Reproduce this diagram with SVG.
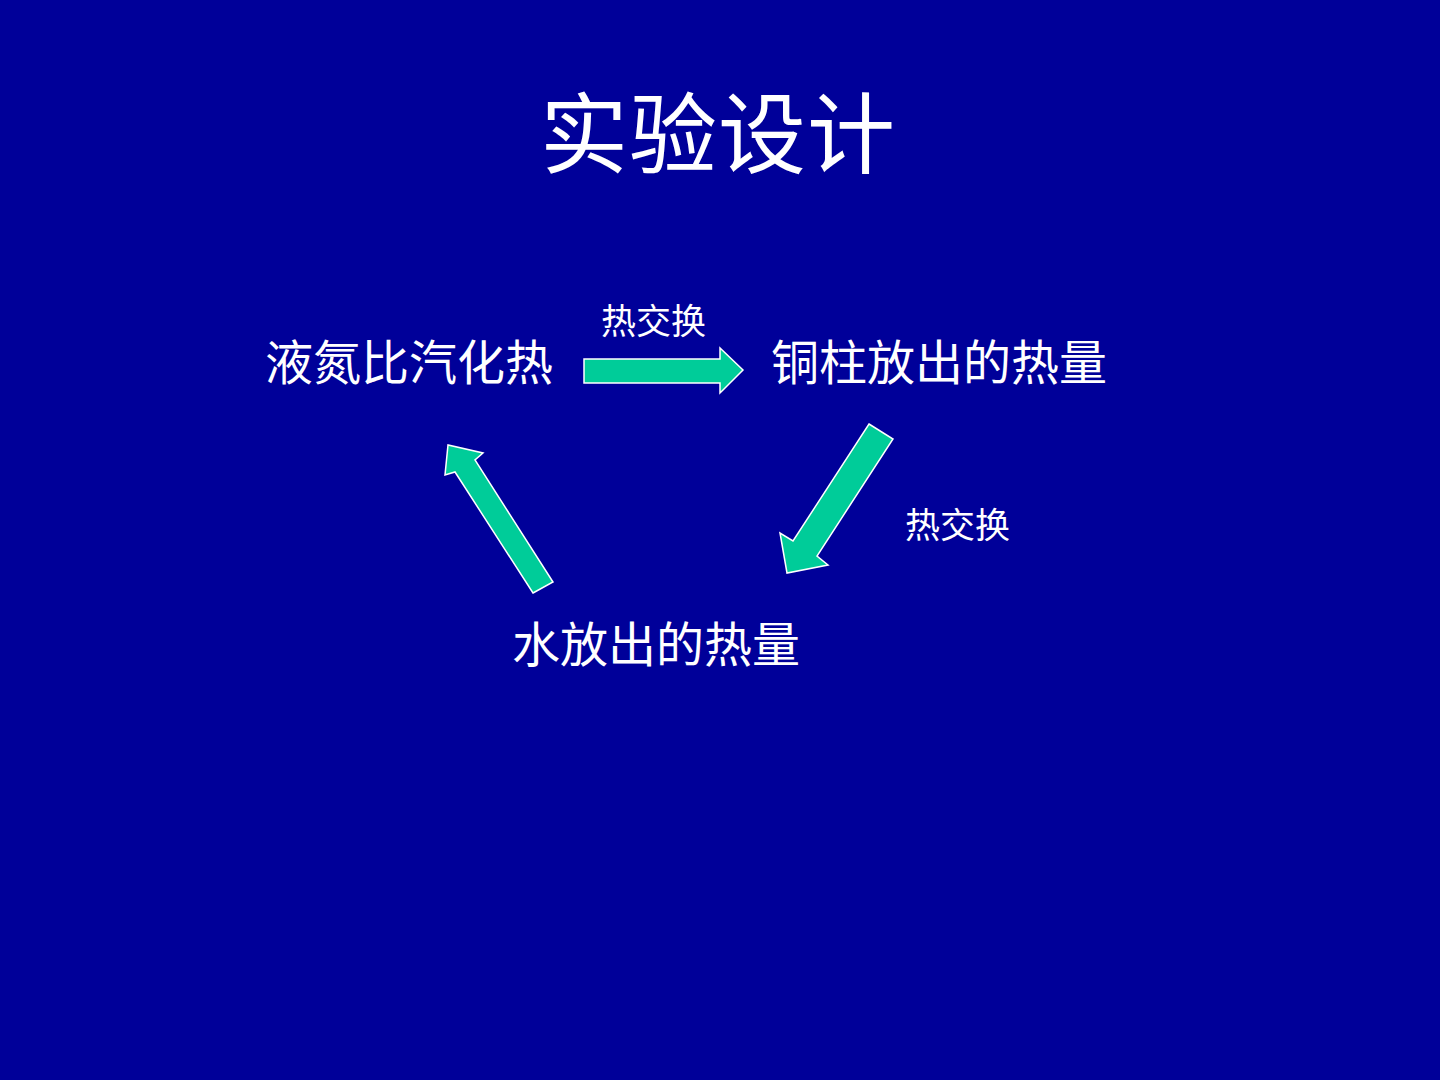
<svg xmlns="http://www.w3.org/2000/svg" width="1440" height="1080" viewBox="0 0 1440 1080">
<style>
.t{fill:#ffffff;font-family:"Liberation Serif","Noto Sans CJK SC",serif}
.big{font-size:48px}
.small{font-size:35px}
.arr{fill:#00cc99;stroke:#ffffff;stroke-width:1.5;stroke-linejoin:miter}
</style>
<rect x="0" y="0" width="1440" height="1080" fill="#000099"/>
<g id="title"><text class="t" x="540" y="166" font-size="88" textLength="355">实验设计</text></g>
<g id="node-ln2"><text class="t big" x="265" y="380">液氮比汽化热</text></g>
<g id="node-cu"><text class="t big" x="771" y="380">铜柱放出的热量</text></g>
<g id="node-water"><text class="t big" x="512" y="662">水放出的热量</text></g>
<g id="connectors">
<polygon class="arr" points="584,359 720,359 720,348 743,370 720,393 720,383 584,383"/>
<polygon class="arr" points="869,424 893,439 817,556 828,565 787,573 780,533 793,541"/>
<polygon class="arr" points="533,593 553,582 475,460 483,453 448,445 445,475 455,472"/>
<text class="t small" x="601" y="334">热交换</text>
<text class="t small" x="905" y="538">热交换</text>
</g>
</svg>
